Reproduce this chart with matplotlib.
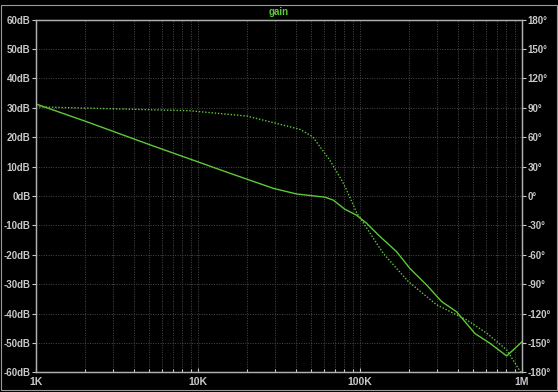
import matplotlib.pyplot as plt
from matplotlib.patches import Rectangle
from matplotlib.ticker import FixedLocator, NullFormatter

# magnitude trace (solid)
freq_mag = [1e3, 2e3, 5e3, 8.9e3, 15.8e3, 29.2e3, 40.5e3, 60.8e3, 68.4e3, 80.6e3,
            95e3, 110e3, 130e3, 168e3, 203e3, 258e3, 319e3, 395e3, 513e3, 634e3,
            804e3, 1e6]
mag_db = [31.3, 25.5, 17.5, 12.6, 7.7, 2.6, 0.7, -0.4, -1.4, -4.5,
          -6.5, -9.3, -13.3, -18.9, -24.6, -30.3, -35.9, -39.4, -46.8, -50.1,
          -54.4, -49.6]

# phase trace (dotted)
freq_ph = [1e3, 8.9e3, 20e3, 30.6e3, 42.6e3, 51e3, 65e3, 77e3, 82.7e3,
           95.4e3, 139e3, 199e3, 297e3, 456e3, 606e3, 804e3, 975e3, 1e6]
phase_deg = [91, 87, 81.6, 74, 68, 60.5, 36.7, 16.3, 6,
             -17, -58.5, -87.4, -111, -126.5, -140, -157, -179, -180]

db_ticks = list(range(-60, 61, 10))
deg_ticks = list(range(-180, 181, 30))
freq_ticks = [1e3, 1e4, 1e5, 1e6]
freq_labels = ['1K', '10K', '100K', '1M']

green = '#5ec83a'
txt = '#c8c8c8'
gridc = '#4a4a4a'

plt.rcParams['font.family'] = ['Liberation Sans', 'DejaVu Sans']

fig = plt.figure(figsize=(5.58, 3.92), dpi=100, facecolor='black')
ax = fig.add_axes([36 / 558, 1 - 372.4 / 392, 486 / 558, 352.8 / 392])
ax.set_facecolor('black')
ax.set_xscale('log')
ax.plot(freq_mag, mag_db, color=green, lw=1.0)

ax2 = ax.twinx()
ax2.plot(freq_ph, phase_deg, color=green, lw=1.0, ls=(0, (1, 1.3)))

ax.set_xlim(1e3, 1e6)
ax.set_ylim(-60, 60)
ax.set_yticks(db_ticks)
ax.set_yticklabels([f'{v}dB' for v in db_ticks])
ax.xaxis.set_major_locator(FixedLocator(freq_ticks))
ax.set_xticklabels(freq_labels)
minors = [m * 10 ** e for e in range(3, 6) for m in range(2, 10)]
ax.xaxis.set_minor_locator(FixedLocator(minors))
ax.xaxis.set_minor_formatter(NullFormatter())

ax.grid(True, which='both', axis='x', color=gridc, ls=(0, (1, 1.5)), lw=0.7)
ax.grid(True, which='major', axis='y', color=gridc, ls=(0, (1, 1.5)), lw=0.7)

ax.tick_params(axis='y', colors=txt, labelsize=7, length=3, width=0.8, pad=1)
ax.tick_params(axis='x', which='major', colors=txt, labelsize=7.5, length=3,
               width=0.8, direction='in', pad=3)
ax.tick_params(axis='x', which='minor', colors=txt, length=2, width=0.8, direction='in')
for lab in ax.get_xticklabels() + ax.get_yticklabels():
    lab.set_fontweight('bold')
for s in ax.spines.values():
    s.set_color('#b0b0b0')
    s.set_linewidth(0.9)

ax2.set_ylim(-180, 180)
ax2.set_yticks(deg_ticks)
ax2.set_yticklabels([f'{v}°' for v in deg_ticks])
ax2.tick_params(axis='y', colors=txt, labelsize=7, length=3, width=0.8, pad=1)
for lab in ax2.get_yticklabels():
    lab.set_fontweight('bold')
for s in ax2.spines.values():
    s.set_color('#b0b0b0')
    s.set_linewidth(0.9)

fig.text(0.5, 1 - 12 / 392, 'gain', color=green, ha='center', va='center',
         fontsize=7, fontweight='bold')

fig.patches.append(Rectangle((1 / 558, 2 / 392), 556 / 558, 385 / 392,
                             transform=fig.transFigure, fill=False,
                             edgecolor='#9a9a9a', lw=0.8))

fig.savefig('out.png', dpi=100, facecolor='black')
